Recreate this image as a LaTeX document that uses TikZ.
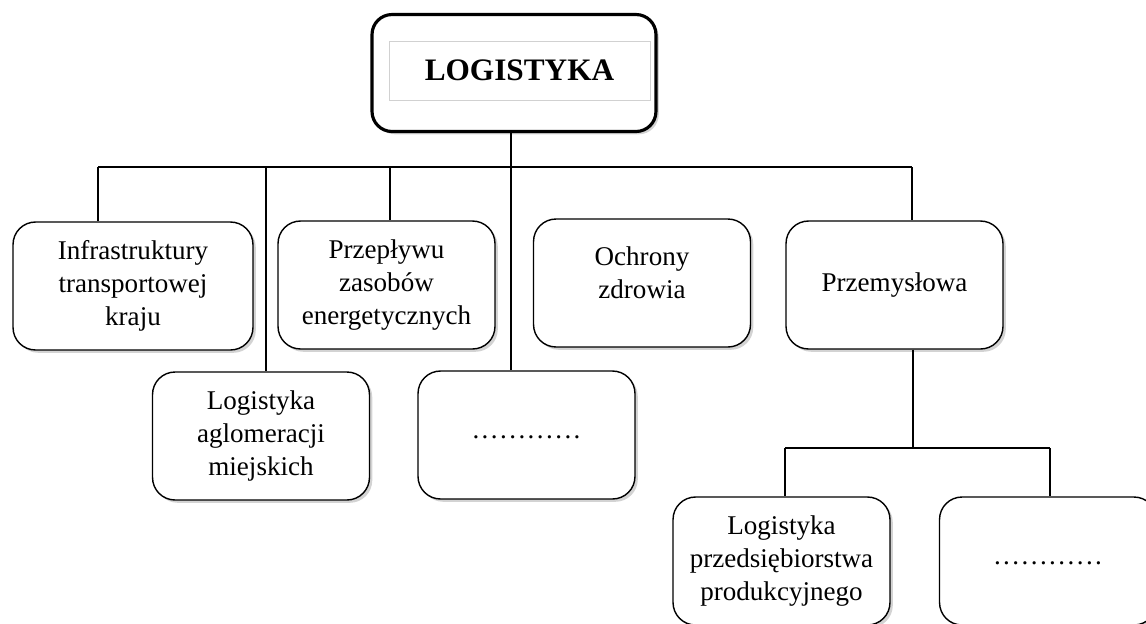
\documentclass[tikz,border=0pt]{standalone}
\usepackage{fontspec}
\setmainfont{Liberation Serif}
\usetikzlibrary{shadows}

\tikzstyle{box} = [rectangle, rounded corners=0.45cm, minimum width=4.34cm, minimum height=2.56cm, inner sep=0pt, align=center, draw=black, line width=0.8pt, fill=white, drop shadow={shadow xshift=1.6pt, shadow yshift=-1.6pt, opacity=0.35}, font=\fontsize{15.4}{18.7}\selectfont]
\tikzstyle{rootbox} = [rectangle, rounded corners=0.4cm, minimum width=5.68cm, minimum height=2.34cm, draw=black, line width=1.8pt, fill=white, drop shadow={shadow xshift=1.6pt, shadow yshift=-1.6pt, opacity=0.35}]
\tikzstyle{titlebox} = [rectangle, minimum width=5.22cm, minimum height=1.18cm, draw=black!18, line width=0.5pt, font=\fontsize{17.8}{21}\selectfont\bfseries]
\tikzstyle{conn} = [line width=0.85pt]

\newcommand{\emptyrow}{\raisebox{-4pt}{\addfontfeature{LetterSpace=9}............}}

\begin{document}
\begin{tikzpicture}[x=0.02cm, y=-0.02cm]

  \useasboundingbox (0,0) rectangle (1146,623);
  \clip (0,0) rectangle (1146,623);

  \node (root) [rootbox] at (514,73) {};
  \node (title) [titlebox] at (519.5,70.5) {LOGISTYKA};

  \node (infra) [box, minimum width=4.8cm] at (133,286) {Infrastruktury\\transportowej\\kraju};
  \node (flow) [box] at (386.5,285) {Przepływu\\zasobów\\energetycznych};
  \node (health) [box] at (642,283) {Ochrony\\zdrowia\\[-7.3pt]};
  \node (industry) [box] at (894.5,285) {Przemysłowa};
  \node (city) [box] at (261,436) {Logistyka\\aglomeracji\\miejskich};
  \node (dots1) [box] at (526.5,435) {\emptyrow};
  \node (firm) [box] at (781.5,561) {Logistyka\\przedsiębiorstwa\\produkcyjnego};
  \node (dots2) [box] at (1048,561) {\emptyrow};

  % --- %

  \coordinate (b1) at (98,167);
  \coordinate (b2) at (266,167);
  \coordinate (b3) at (390,167);
  \coordinate (b4) at (511,167);
  \coordinate (b5) at (912,167);

  \draw [conn] (b1) -- (b5);
  \draw [conn] (b1) -- (b1 |- infra.north);
  \draw [conn] (b2) -- (b2 |- city.north);
  \draw [conn] (b3) -- (b3 |- flow.north);
  \draw [conn] (b4 |- root.south) -- (b4 |- dots1.north);
  \draw [conn] (b5) -- (b5 |- industry.north);

  % --- %

  \coordinate (s0) at (913,448);
  \coordinate (s1) at (785,448);
  \coordinate (s2) at (1050,448);

  \draw [conn] (s0 |- industry.south) -- (s0);
  \draw [conn] (s1) -- (s2);
  \draw [conn] (s1) -- (s1 |- firm.north);
  \draw [conn] (s2) -- (s2 |- dots2.north);

\end{tikzpicture}
\end{document}
